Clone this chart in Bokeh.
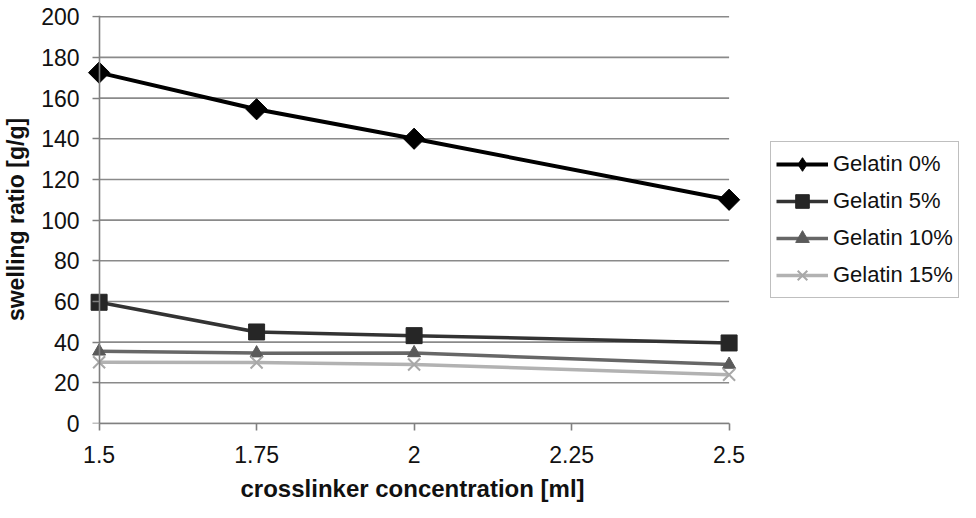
import math
from bokeh.plotting import figure
from bokeh.models import Range1d, FixedTicker, Legend, LegendItem, LinearAxis, Title
from bokeh.embed import file_html
from bokeh.resources import INLINE

# ---- data ----
x_vals = [1.5, 1.75, 2.0, 2.5]
gel0 = [172.5, 154.5, 140.0, 110.0]
gel5 = [59.6, 45.0, 43.2, 39.6]
gel10 = [35.5, 34.6, 34.7, 29.0]
gel15 = [30.1, 30.0, 29.0, 24.0]
series_names = ["Gelatin 0%", "Gelatin 5%", "Gelatin 10%", "Gelatin 15%"]
x_ticks = [1.5, 1.75, 2.0, 2.25, 2.5]
x_tick_labels = ["1.5", "1.75", "2", "2.25", "2.5"]
y_ticks = list(range(0, 201, 20))
x_title = "crosslinker concentration [ml]"
y_title = "swelling ratio [g/g]"

FONT = "Liberation Sans"
AXIS_GREY = "#808080"

# frame extends to the right to host the legend; axis/grid are bounded to the data extent
FRAME_W = 873
PX_PER_UNIT = 630.0
X_START = x_ticks[0] - 12.6 / PX_PER_UNIT
X_END = X_START + FRAME_W / PX_PER_UNIT

p = figure(frame_width=FRAME_W, frame_height=408,
           min_border_left=86, min_border_top=15, min_border_bottom=0,
           min_border_right=1,
           x_range=Range1d(X_START, X_END),
           y_range=Range1d(0, 200.6),
           output_backend="svg", toolbar_location=None,
           background_fill_color="white", border_fill_color="white")
p.outline_line_color = None
p.xgrid.visible = False
p.ygrid.visible = False

# horizontal grid lines spanning the x-axis extent only
p.segment(x0=[x_ticks[0]] * len(y_ticks), x1=[x_ticks[-1]] * len(y_ticks),
          y0=y_ticks, y1=y_ticks, line_color="#8a8a8a", line_width=1.6)

# x axis
xa = p.xaxis[0]
xa.ticker = FixedTicker(ticks=x_ticks)
xa.major_label_overrides = {t: l for t, l in zip(x_ticks, x_tick_labels)}
xa.bounds = (x_ticks[0], x_ticks[-1])
xa.axis_line_color = AXIS_GREY
xa.axis_line_width = 1.6
xa.major_tick_line_color = AXIS_GREY
xa.major_tick_line_width = 1.6
xa.major_tick_out = 7
xa.major_tick_in = 0
xa.minor_tick_line_color = None
xa.major_label_text_font = FONT
xa.major_label_text_font_size = "23px"
xa.major_label_text_color = "#111111"
xa.major_label_standoff = 15

# x axis title, centred under the x-axis extent (not the whole frame)
xt = Title(text=x_title, align="left", offset=154, standoff=15,
           text_font=FONT, text_font_size="24px", text_font_style="bold",
           text_color="#111111")
p.add_layout(xt, "below")

# y axis (labels + title at the frame edge; line and ticks drawn by a second axis at x = 1.5)
ya = p.yaxis[0]
ya.ticker = FixedTicker(ticks=y_ticks)
ya.axis_line_color = None
ya.major_tick_line_color = None
ya.major_tick_out = 0
ya.major_tick_in = 0
ya.minor_tick_line_color = None
ya.major_label_text_font = FONT
ya.major_label_text_font_size = "23px"
ya.major_label_text_color = "#111111"
ya.major_label_standoff = 7
ya.axis_label = y_title
ya.axis_label_text_font = FONT
ya.axis_label_text_font_style = "bold"
ya.axis_label_text_font_size = "23px"
ya.axis_label_text_color = "#111111"
ya.axis_label_standoff = 9

ya2 = LinearAxis(ticker=FixedTicker(ticks=y_ticks), fixed_location=x_ticks[0])
ya2.major_label_text_font_size = "0px"
ya2.major_label_text_color = None
ya2.axis_line_color = AXIS_GREY
ya2.axis_line_width = 1.6
ya2.major_tick_line_color = AXIS_GREY
ya2.major_tick_line_width = 1.6
ya2.major_tick_out = 7
ya2.major_tick_in = 0
ya2.minor_tick_line_color = None
p.add_layout(ya2, "left")

items = []
l0 = p.line(x_vals, gel0, line_color="#000000", line_width=4)
# diamond swatch for the legend; on the plot it sits fully inside the rotated square below
k0 = p.scatter(x_vals, gel0, marker="diamond", size=20,
               fill_color="#000000", line_color="#000000")
m0 = p.scatter(x_vals, gel0, marker="square", angle=math.pi / 4, size=15,
               fill_color="#000000", line_color="#000000")
items.append(LegendItem(label=series_names[0], renderers=[l0, k0]))

l1 = p.line(x_vals, gel5, line_color="#333333", line_width=3.5)
m1 = p.scatter(x_vals, gel5, marker="square", size=16,
               fill_color="#262626", line_color="#262626")
items.append(LegendItem(label=series_names[1], renderers=[l1, m1]))

l2 = p.line(x_vals, gel10, line_color="#676767", line_width=3.5)
m2 = p.scatter(x_vals, gel10, marker="triangle", size=13,
               fill_color="#5a5a5a", line_color="#5a5a5a")
items.append(LegendItem(label=series_names[2], renderers=[l2, m2]))

l3 = p.line(x_vals, gel15, line_color="#b2b2b2", line_width=3.5)
m3 = p.scatter(x_vals, gel15, marker="x", size=17, line_color="#a8a8a8", line_width=2)
items.append(LegendItem(label=series_names[3], renderers=[l3, m3]))

legend = Legend(items=items, location=(684, 125))
legend.label_text_font = FONT
legend.label_text_font_size = "22px"
legend.label_text_color = "#111111"
legend.glyph_width = 52
legend.glyph_height = 34
legend.label_standoff = 5
legend.spacing = 3
legend.padding = 5
legend.margin = 0
legend.border_line_color = AXIS_GREY
legend.border_line_width = 1.5
legend.background_fill_color = "white"
p.add_layout(legend, "center")

open("out.html", "w").write(file_html(p, INLINE))
